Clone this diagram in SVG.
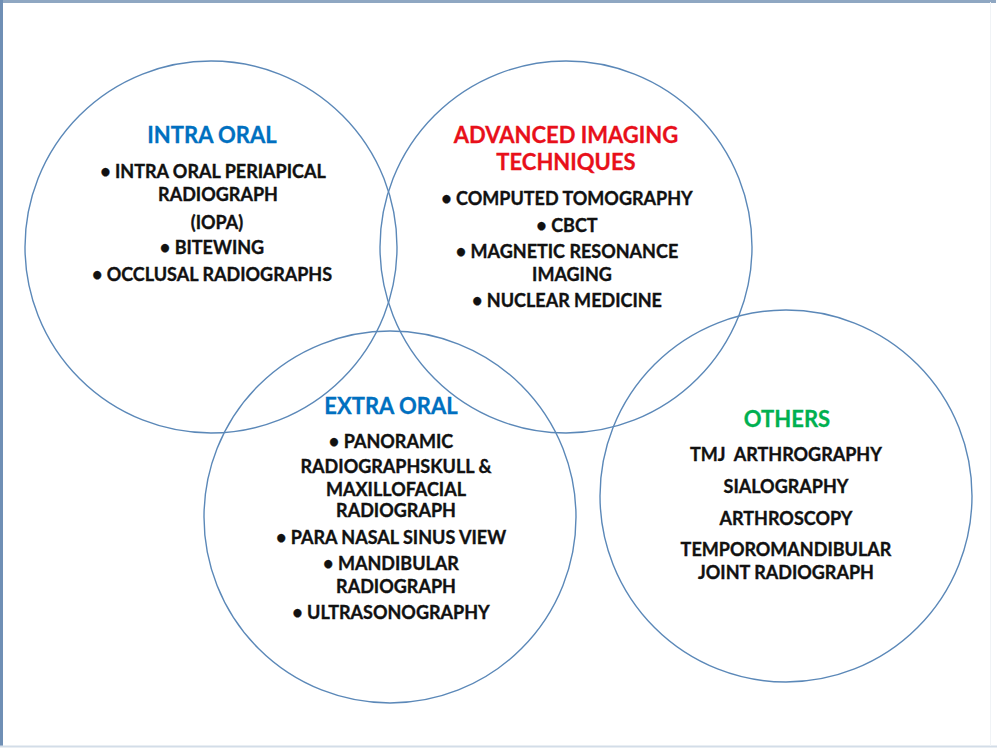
<svg xmlns="http://www.w3.org/2000/svg" width="997" height="748" viewBox="0 0 997 748">
<style>
.c{fill:none;stroke:#5b88b8;stroke-width:1.4}
.t{font-family:Lato,"Open Sans","Liberation Sans",sans-serif;font-weight:bold;text-anchor:middle}
.h{font-size:22px;stroke-width:0.3}
.b{font-size:18px;fill:#111;stroke:#111;stroke-width:0.35}
</style>
<rect x="0" y="0" width="997" height="748" fill="#fff"/>
<line x1="0" y1="1.5" x2="996" y2="1.5" stroke="#8fa7c2" stroke-width="3"/>
<line x1="1.5" y1="0" x2="1.5" y2="747" stroke="#6f8fb5" stroke-width="3"/>
<line x1="0" y1="746.5" x2="997" y2="746.5" stroke="#d3dde8" stroke-width="2"/>
<line x1="990.5" y1="2" x2="990.5" y2="746" stroke="#f0f3f6" stroke-width="1"/>
<g id="intra-oral">
<circle class="c" cx="211" cy="247" r="186"/>
<text class="t h" x="212" y="143" fill="#0070c0" stroke="#0070c0">INTRA ORAL</text>
<text class="t b" x="213" y="178">• INTRA ORAL PERIAPICAL</text>
<text class="t b" x="218" y="201">RADIOGRAPH</text>
<text class="t b" x="217" y="229">(IOPA)</text>
<text class="t b" x="212" y="254">• BITEWING</text>
<text class="t b" x="212" y="281">• OCCLUSAL RADIOGRAPHS</text>
</g>
<g id="advanced">
<circle class="c" cx="566" cy="247" r="186"/>
<text class="t h" x="566" y="143" fill="#e8101a" stroke="#e8101a">ADVANCED IMAGING</text>
<text class="t h" x="566" y="170" fill="#e8101a" stroke="#e8101a">TECHNIQUES</text>
<text class="t b" x="567" y="205">• COMPUTED TOMOGRAPHY</text>
<text class="t b" x="567" y="232">• CBCT</text>
<text class="t b" x="567" y="258">• MAGNETIC RESONANCE</text>
<text class="t b" x="572" y="281">IMAGING</text>
<text class="t b" x="567" y="307">• NUCLEAR MEDICINE</text>
</g>
<g id="extra-oral">
<circle class="c" cx="390" cy="517" r="186"/>
<text class="t h" x="391" y="414" fill="#0070c0" stroke="#0070c0">EXTRA ORAL</text>
<text class="t b" x="391" y="448">• PANORAMIC</text>
<text class="t b" x="396" y="473">RADIOGRAPHSKULL &amp;</text>
<text class="t b" x="396" y="496">MAXILLOFACIAL</text>
<text class="t b" x="396" y="517">RADIOGRAPH</text>
<text class="t b" x="391" y="544">• PARA NASAL SINUS VIEW</text>
<text class="t b" x="391" y="570">• MANDIBULAR</text>
<text class="t b" x="396" y="593">RADIOGRAPH</text>
<text class="t b" x="391" y="619">• ULTRASONOGRAPHY</text>
</g>
<g id="others">
<circle class="c" cx="786" cy="496" r="186"/>
<text class="t h" x="787" y="427" fill="#00b050" stroke="#00b050">OTHERS</text>
<text class="t b" x="786" y="461" xml:space="preserve">TMJ  ARTHROGRAPHY</text>
<text class="t b" x="786" y="493">SIALOGRAPHY</text>
<text class="t b" x="786" y="525">ARTHROSCOPY</text>
<text class="t b" x="786" y="556">TEMPOROMANDIBULAR</text>
<text class="t b" x="786" y="579">JOINT RADIOGRAPH</text>
</g>
<g id="connectors"></g>
</svg>
